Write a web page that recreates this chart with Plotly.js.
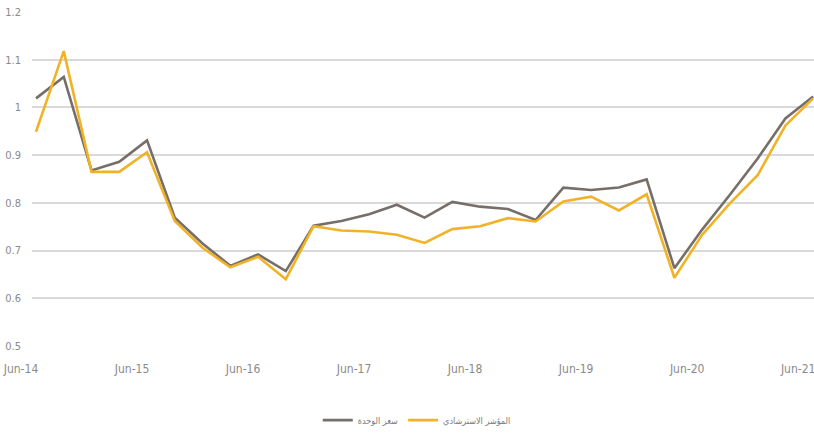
<!DOCTYPE html>
<html>
<head>
<meta charset="utf-8">
<script src="https://cdn.plot.ly/plotly-3.0.1.min.js"></script>
<style>html,body{margin:0;padding:0;background:#fff;}#chart{width:814px;height:435px;}</style>
</head>
<body>
<div id="chart"></div>
<script>
// Quarterly observations, Jun-14 .. Jun-21
const quarters = Array.from({length: 29}, (_, i) => i);
const unitPrice = [1.019, 1.064, 0.868, 0.886, 0.931, 0.769, 0.715, 0.668, 0.692, 0.657,
  0.752, 0.762, 0.776, 0.796, 0.769, 0.802, 0.792, 0.787, 0.764, 0.832,
  0.827, 0.832, 0.849, 0.663, 0.744, 0.817, 0.893, 0.977, 1.023];
const benchmark = [0.949, 1.118, 0.865, 0.865, 0.906, 0.762, 0.706, 0.665, 0.687, 0.640,
  0.751, 0.742, 0.740, 0.733, 0.716, 0.745, 0.751, 0.768, 0.761, 0.803,
  0.813, 0.784, 0.818, 0.643, 0.733, 0.799, 0.858, 0.962, 1.019];
const tickPositions = [0, 4, 8, 12, 16, 20, 24, 28];
const tickLabels = ["Jun-14", "Jun-15", "Jun-16", "Jun-17", "Jun-18", "Jun-19", "Jun-20", "Jun-21"];
const seriesNames = ["سعر الوحدة", "المؤشر الاسترشادي"];

const condensed = '"DejaVu Sans Condensed", "Liberation Sans Narrow", "DejaVu Sans", sans-serif';

const traces = [
  {x: quarters, y: unitPrice, name: seriesNames[0], type: 'scatter', mode: 'lines',
   line: {color: '#766e68', width: 2.6}},
  {x: quarters, y: benchmark, name: seriesNames[1], type: 'scatter', mode: 'lines',
   line: {color: '#f0b327', width: 2.6}}
];

const layout = {
  width: 814, height: 435,
  margin: {l: 32, r: 0, t: 12, b: 86},
  paper_bgcolor: '#ffffff', plot_bgcolor: '#ffffff',
  font: {family: condensed, size: 12, color: '#8a8a8a'},
  showlegend: true,
  legend: {orientation: 'h', x: 0.492, xanchor: 'center', y: -0.222, yanchor: 'middle',
    itemwidth: 30,
    font: {family: condensed, size: 9, color: '#7a7a7a'}},
  xaxis: {
    range: [-0.144, 28.03], tickvals: tickPositions, ticktext: tickLabels,
    showgrid: false, zeroline: false, showline: false, ticks: '',
    ticklabelshift: -15, ticklabelstandoff: 14, ticklabeloverflow: 'allow',
    tickfont: {family: condensed, size: 12, color: '#8a8a8a'}
  },
  yaxis: {
    range: [0.5, 1.2], dtick: 0.1, tick0: 0.5,
    showgrid: true, gridcolor: '#d9d9d9', gridwidth: 2,
    zeroline: false, showline: false, ticks: '',
    ticklabelstandoff: 10,
    tickfont: {family: condensed, size: 11, color: '#8a8a8a'}
  }
};

Plotly.newPlot('chart', traces, layout, {displayModeBar: false, staticPlot: true});
</script>
</body>
</html>
